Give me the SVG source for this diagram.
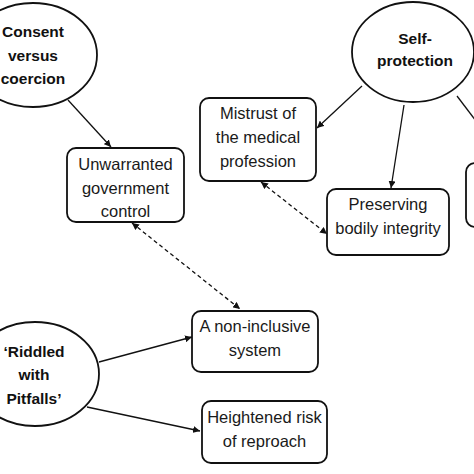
<svg xmlns="http://www.w3.org/2000/svg" width="474" height="474" viewBox="0 0 474 474">
<defs>
<style>
.ell{fill:#fff;stroke:#111;stroke-width:1.8}
.box{fill:#fff;stroke:#111;stroke-width:1.8}
.bt{font-family:"Liberation Sans",Arial,sans-serif;font-weight:bold;font-size:15.5px;fill:#111;text-anchor:middle}
.nt{font-family:"Liberation Sans",Arial,sans-serif;font-size:16.5px;fill:#1a1a1a;text-anchor:middle}
.ln{stroke:#111;stroke-width:1.3;fill:none}
.ds{stroke:#111;stroke-width:1.3;fill:none;stroke-dasharray:4 3}
</style>
<marker id="ah" viewBox="0 0 10 10" refX="10" refY="5" markerWidth="7" markerHeight="7" orient="auto-start-reverse" markerUnits="userSpaceOnUse">
<path d="M0,0 L10,5 L0,10 z" fill="#111"/>
</marker>
</defs>
<rect width="474" height="474" fill="#fff"/>
<g id="connectors">
<line class="ln" x1="68" y1="100" x2="111" y2="147" marker-end="url(#ah)"/>
<line class="ln" x1="362" y1="86" x2="317" y2="128" marker-end="url(#ah)"/>
<line class="ln" x1="404" y1="105" x2="391" y2="188" marker-end="url(#ah)"/>
<line class="ln" x1="457" y1="96" x2="476" y2="121"/>
<line class="ds" x1="261" y1="182" x2="327" y2="234" marker-start="url(#ah)" marker-end="url(#ah)"/>
<line class="ds" x1="132" y1="223" x2="240" y2="309" marker-start="url(#ah)" marker-end="url(#ah)"/>
<line class="ln" x1="99" y1="362" x2="192" y2="337" marker-end="url(#ah)"/>
<line class="ln" x1="87" y1="407" x2="200" y2="431" marker-end="url(#ah)"/>
</g>
<g id="consent">
<ellipse class="ell" cx="33" cy="55" rx="64" ry="52"/>
<text class="bt" x="33" y="37">Consent</text>
<text class="bt" x="33" y="61">versus</text>
<text class="bt" x="33" y="84">coercion</text>
</g>
<g id="selfprotection">
<ellipse class="ell" cx="413" cy="52" rx="61" ry="50"/>
<text class="bt" x="415" y="44">Self-</text>
<text class="bt" x="415" y="66">protection</text>
</g>
<g id="riddled">
<ellipse class="ell" cx="35" cy="374" rx="64" ry="52"/>
<text class="bt" x="34" y="357">‘Riddled</text>
<text class="bt" x="34" y="380">with</text>
<text class="bt" x="34" y="404">Pitfalls’</text>
</g>
<g id="unwarranted">
<rect class="box" x="67" y="148" width="117" height="74" rx="9"/>
<text class="nt" x="125.5" y="170">Unwarranted</text>
<text class="nt" x="125.5" y="194">government</text>
<text class="nt" x="125.5" y="217">control</text>
</g>
<g id="mistrust">
<rect class="box" x="200" y="98" width="116" height="83" rx="9"/>
<text class="nt" x="258" y="119">Mistrust of</text>
<text class="nt" x="258" y="143">the medical</text>
<text class="nt" x="258" y="167">profession</text>
</g>
<g id="rightbox">
<rect class="box" x="466" y="163" width="30" height="64" rx="9"/>
</g>
<g id="preserving">
<rect class="box" x="327" y="189" width="122" height="66" rx="9"/>
<text class="nt" x="388" y="210">Preserving</text>
<text class="nt" x="388" y="234">bodily integrity</text>
</g>
<g id="noninclusive">
<rect class="box" x="192" y="311" width="126" height="61" rx="9"/>
<text class="nt" x="255" y="332">A non-inclusive</text>
<text class="nt" x="255" y="356">system</text>
</g>
<g id="heightened">
<rect class="box" x="202" y="401" width="125" height="62" rx="9"/>
<text class="nt" x="264.5" y="423">Heightened risk</text>
<text class="nt" x="264.5" y="447">of reproach</text>
</g>
</svg>
